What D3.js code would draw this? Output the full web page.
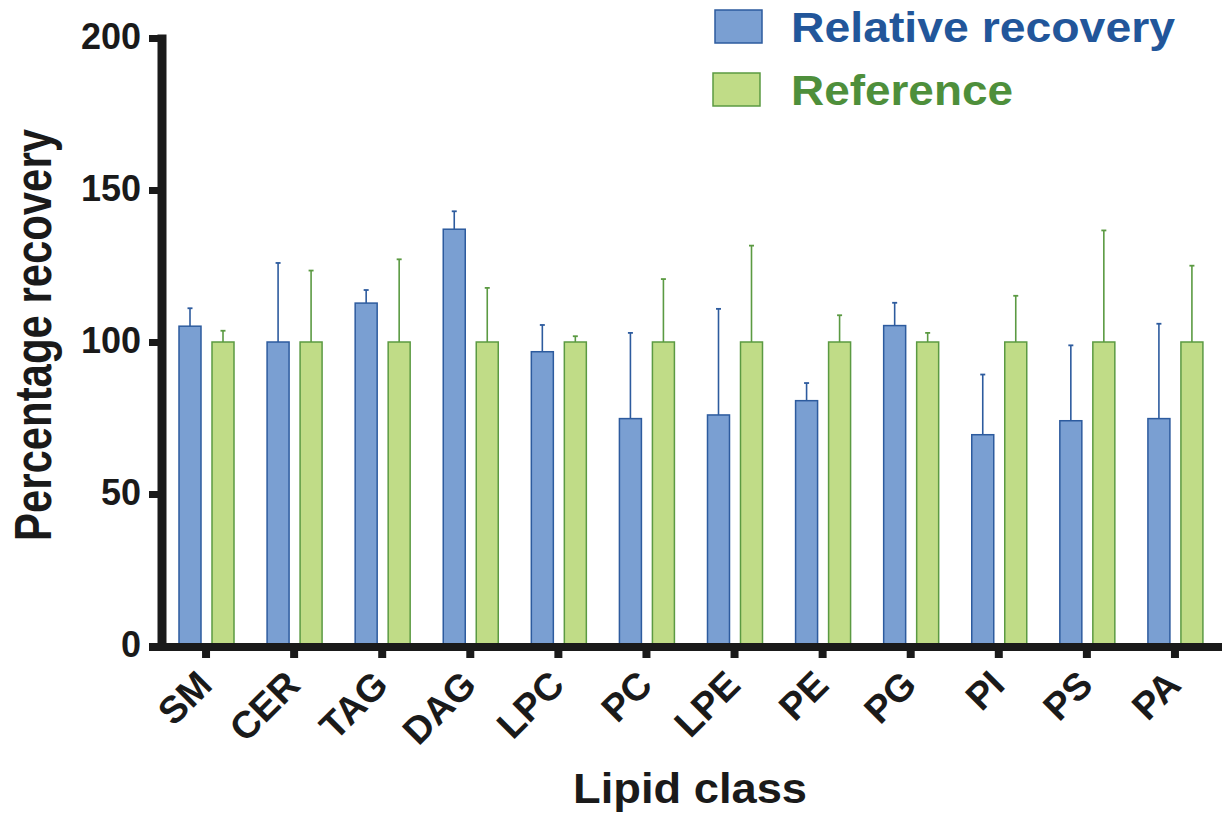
<!DOCTYPE html>
<html>
<head>
<meta charset="utf-8">
<script src="https://cdn.jsdelivr.net/npm/d3@7"></script>
<style>
  html, body { margin: 0; padding: 0; background: #fff; }
  svg { display: block; font-family: "Liberation Sans", Arial, Helvetica, sans-serif; }
</style>
</head>
<body>
<svg id="chart" width="1226" height="819"></svg>
<script>
// ---- data ----
const categories = ["SM", "CER", "TAG", "DAG", "LPC", "PC", "LPE", "PE", "PG", "PI", "PS", "PA"];
const seriesNames = ["Relative recovery", "Reference"];
const relativeRecovery = [105.2, 100, 112.8, 137.1, 96.8, 74.8, 76, 80.7, 105.4, 69.5, 74.1, 74.8];
const relativeRecoveryErr = [5.9, 26, 4.3, 5.9, 8.8, 28.2, 34.9, 5.8, 7.5, 19.8, 24.8, 31.2];
const reference = [100, 100, 100, 100, 100, 100, 100, 100, 100, 100, 100, 100];
const referenceErr = [3.7, 23.5, 27.2, 17.8, 1.9, 20.7, 31.7, 8.8, 3, 15.2, 36.7, 25.1];
const yTicks = [0, 50, 100, 150, 200];
const yTitle = "Percentage recovery";
const xTitle = "Lipid class";

// ---- styles ----
const fills = ["#7a9fd2", "#c0dc87"];
const strokes = ["#2d5b9e", "#5b9a42"];
const legendText = ["#22569a", "#4e8f3b"];
const axisColor = "#1a1a1a";

const svg = d3.select("#chart");

const x = d3.scaleBand().domain(categories).range([162, 1219]).padding(0);
const xInner = d3.scaleBand().domain(seriesNames).range([17, 72]).paddingInner(1/3).paddingOuter(0);
const y = d3.scaleLinear().domain([0, 200]).range([646, 38]);

const rows = categories.map((c, i) => ({
  cat: c,
  vals: [
    { s: seriesNames[0], v: relativeRecovery[i], e: relativeRecoveryErr[i], k: 0 },
    { s: seriesNames[1], v: reference[i], e: referenceErr[i], k: 1 }
  ]
}));

const groups = svg.append("g").selectAll("g").data(rows).join("g")
  .attr("transform", d => `translate(${x(d.cat)},0)`);

// error bars (drawn under bars)
groups.selectAll("g.err").data(d => d.vals).join("g").attr("class", "err")
  .each(function(d) {
    const g = d3.select(this);
    const cx = xInner(d.s) + xInner.bandwidth() / 2;
    g.append("line").attr("x1", cx).attr("x2", cx)
      .attr("y1", y(d.v)).attr("y2", y(d.v + d.e))
      .attr("stroke", strokes[d.k]).attr("stroke-width", 1.6);
    g.append("line").attr("x1", cx - 2.5).attr("x2", cx + 2.5)
      .attr("y1", y(d.v + d.e)).attr("y2", y(d.v + d.e))
      .attr("stroke", strokes[d.k]).attr("stroke-width", 1.8);
  });

groups.selectAll("rect").data(d => d.vals).join("rect")
  .attr("x", d => xInner(d.s))
  .attr("width", xInner.bandwidth())
  .attr("y", d => y(d.v))
  .attr("height", d => y(0) - y(d.v))
  .attr("fill", d => fills[d.k])
  .attr("stroke", d => strokes[d.k])
  .attr("stroke-width", 1.5);

// ---- y axis ----
const yAxis = svg.append("g").attr("transform", "translate(162,0)")
  .call(d3.axisLeft(y).tickValues(yTicks).tickSize(13).tickSizeOuter(0).tickPadding(8).tickFormat(d3.format("d")));
yAxis.select(".domain").remove();
yAxis.selectAll(".tick line").attr("stroke", axisColor).attr("stroke-width", 7);
yAxis.selectAll(".tick text").attr("fill", axisColor)
  .style("font-size", "36px").style("font-weight", "bold").attr("dy", "0.3em")
  .style("font-family", "'Liberation Sans', Arial, sans-serif");
svg.append("line").attr("x1", 162).attr("x2", 162)
  .attr("y1", y(200) - 3.5).attr("y2", 651)
  .attr("stroke", axisColor).attr("stroke-width", 9);

// ---- x axis ----
const xAxis = svg.append("g").attr("transform", "translate(0,647)")
  .call(d3.axisBottom(x).tickSize(11).tickSizeOuter(0).tickPadding(0));
xAxis.select(".domain").remove();
xAxis.selectAll(".tick line").attr("stroke", axisColor).attr("stroke-width", 8);
xAxis.selectAll(".tick text")
  .attr("fill", axisColor)
  .style("font-size", "38px").style("font-weight", "bold")
  .style("font-family", "'Liberation Sans', Arial, sans-serif")
  .attr("text-anchor", "end")
  .attr("y", 0).attr("dy", 0)
  .attr("transform", "translate(8,40) rotate(-45)");
svg.append("line").attr("x1", 149).attr("x2", 1222)
  .attr("y1", 647).attr("y2", 647)
  .attr("stroke", axisColor).attr("stroke-width", 8);

// ---- titles ----
svg.append("text")
  .attr("transform", "translate(51,335) rotate(-90)")
  .attr("text-anchor", "middle")
  .attr("textLength", 412).attr("lengthAdjust", "spacingAndGlyphs")
  .style("font-size", "52px").style("font-weight", "bold").attr("fill", axisColor)
  .text(yTitle);

svg.append("text")
  .attr("x", 573).attr("y", 803)
  .attr("textLength", 234).attr("lengthAdjust", "spacingAndGlyphs")
  .style("font-size", "42px").style("font-weight", "bold").attr("fill", axisColor)
  .text(xTitle);

// ---- legend ----
const legendRects = [[715, 10], [713, 73]];
const legendLens = [384, 222];
seriesNames.forEach((s, i) => {
  svg.append("rect")
    .attr("x", legendRects[i][0]).attr("y", legendRects[i][1])
    .attr("width", 47).attr("height", 33)
    .attr("fill", fills[i]).attr("stroke", strokes[i]).attr("stroke-width", 1.5);
  svg.append("text")
    .attr("x", 791).attr("y", legendRects[i][1] + 32)
    .attr("textLength", legendLens[i]).attr("lengthAdjust", "spacingAndGlyphs")
    .style("font-size", "43px").style("font-weight", "bold")
    .attr("fill", legendText[i])
    .text(s);
});
</script>
</body>
</html>
